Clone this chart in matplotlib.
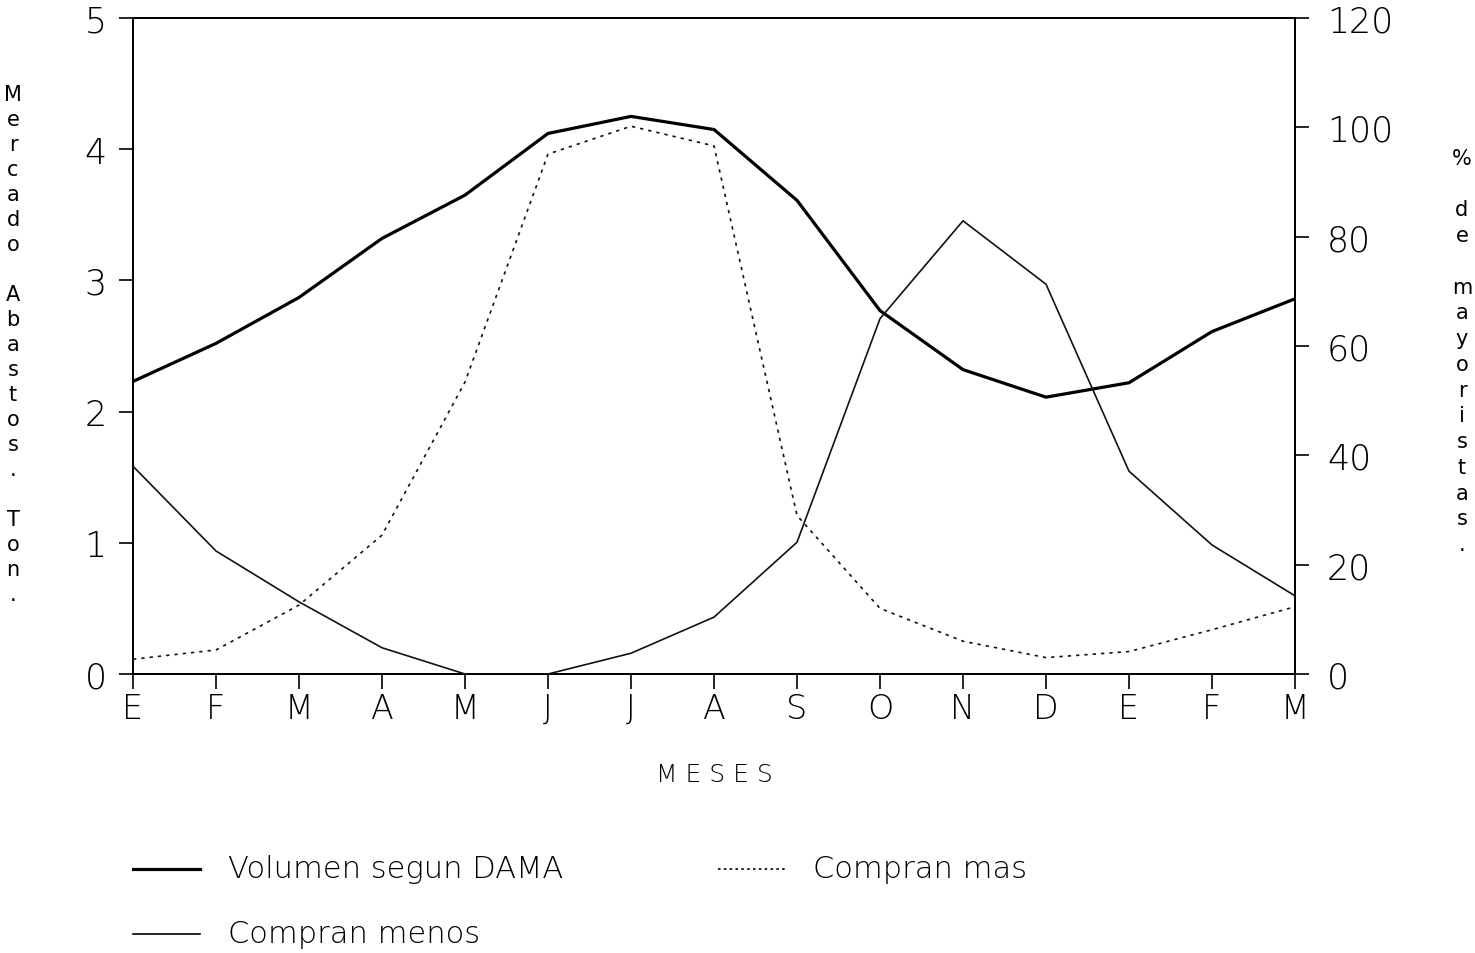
import matplotlib
matplotlib.use("Agg")
import matplotlib.pyplot as plt
from matplotlib.lines import Line2D

plt.rcParams['font.family'] = ['DejaVu Sans']

months = ["E", "F", "M", "A", "M", "J", "J", "A", "S", "O", "N", "D", "E", "F", "M"]
volumen_dama = [2.23, 2.52, 2.87, 3.32, 3.65, 4.12, 4.25, 4.15, 3.61, 2.77, 2.32, 2.11, 2.22, 2.61, 2.86]
compran_menos = [38.0, 22.5, 13.2, 4.8, 0.0, 0.0, 3.8, 10.4, 24.1, 65.0, 82.9, 71.3, 37.1, 23.6, 14.3]
compran_mas = [2.7, 4.4, 12.6, 25.4, 53.4, 95.1, 100.2, 96.6, 29.0, 12.0, 6.0, 3.0, 4.1, 8.1, 12.3]
left_ticks = [0, 1, 2, 3, 4, 5]
right_ticks = [0, 20, 40, 60, 80, 100, 120]

FW = 'light'
fig = plt.figure(figsize=(14.75, 9.54), dpi=100)
ax = fig.add_axes([133/1475, 1-675/954, (1295-133)/1475, (675-19)/954])
ax2 = ax.twinx()

x = list(range(len(months)))
ax.plot(x, volumen_dama, color='black', lw=2.3, solid_joinstyle='round', zorder=3)
ax2.plot(x, compran_menos, color='#111111', lw=1.2, zorder=3)
ax2.plot(x, compran_mas, color='#111111', lw=1.2, linestyle=(0, (2.0, 3.0)), zorder=3)

ax.set_xlim(0, len(months)-1)
ax.set_ylim(0, 5)
ax2.set_ylim(0, 120)
ax.set_xticks(x)
ax.set_xticklabels(months, fontsize=24, fontweight=FW)
ax.set_yticks(left_ticks)
ax.set_yticklabels([str(v) for v in left_ticks], fontsize=25, fontweight=FW)
ax2.set_yticks(right_ticks)
ax2.set_yticklabels([str(v) for v in right_ticks], fontsize=25, fontweight=FW)

ax.tick_params(axis='x', direction='out', length=11, width=1.2, pad=2)
ax.tick_params(axis='y', direction='out', length=10, width=1.2, pad=9)
ax2.tick_params(axis='y', direction='out', length=10, width=1.2, pad=13)
for a in (ax, ax2):
    for s in a.spines.values():
        s.set_linewidth(1.4)

# stacked axis titles
fig.text(13/1475, 1-345/954, "\n".join("Mercado Abastos. Ton."), ha='center', va='center',
         fontsize=15, fontweight='normal', linespacing=1.31, multialignment='center')
fig.text(1462/1475, 1-352/954, "\n".join("% de mayoristas."), ha='center', va='center',
         fontsize=15, fontweight='normal', linespacing=1.36, multialignment='center')
fig.text(714/1475, 1-775/954, "M E S E S", ha='center', va='center', fontsize=18, fontweight=FW)

# legend
def leg(x0, y, text, **kw):
    fig.add_artist(Line2D([x0/1475, (x0+67)/1475], [1-y/954, 1-y/954], color='black', **kw))
    fig.text((x0+95)/1475, 1-y/954, text, ha='left', va='center', fontsize=22, fontweight=FW)

leg(133, 870, "Volumen segun DAMA", lw=2.3)
leg(133, 935, "Compran menos", lw=1.2)
leg(718, 870, "Compran mas", lw=1.2, linestyle=(0, (1.5, 2.0)))

fig.savefig("out.png", dpi=100)
